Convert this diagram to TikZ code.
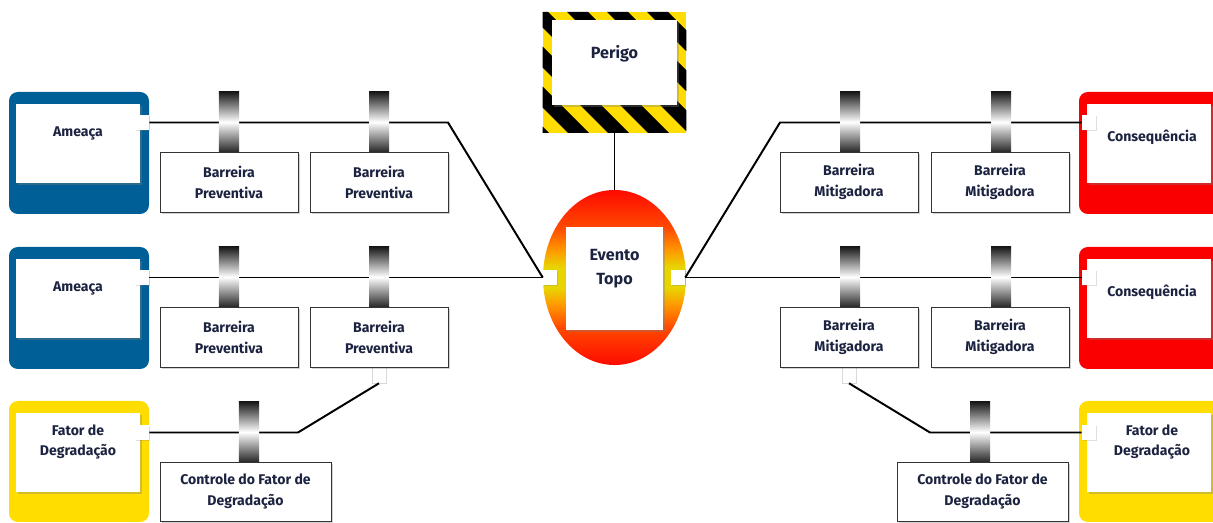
\documentclass[tikz,border=0pt]{standalone}
\usepackage{fontspec}
\setmainfont{Fira Sans}
\usetikzlibrary{shapes.geometric,shadows}
\definecolor{threat}{RGB}{0,95,150}
\definecolor{conseq}{RGB}{250,0,0}
\definecolor{degr}{RGB}{255,221,0}
\definecolor{ink}{RGB}{28,35,64}
\definecolor{evred}{RGB}{255,10,0}
\definecolor{evorange}{RGB}{255,75,0}
\definecolor{evamber}{RGB}{255,150,0}
\definecolor{evyellow}{RGB}{232,212,0}
\pgfdeclareverticalshading{evshade}{100bp}{color(0bp)=(evred); color(25bp)=(evred);
  color(36bp)=(evorange); color(42bp)=(evamber); color(47bp)=(evyellow);
  color(53bp)=(evyellow); color(58bp)=(evamber); color(64bp)=(evorange);
  color(75bp)=(evred); color(100bp)=(evred)}
\tikzset{
  group/.style={rounded corners=0.22cm},
  lbox/.style={fill=white, inner sep=0, minimum width=3.1cm, minimum height=1.975cm,
    drop shadow={shadow xshift=1.5pt, shadow yshift=-1.5pt, opacity=0.35}},
  lab/.style={font=\fontsize{10}{14.5}\selectfont\bfseries, text=ink, align=center},
  biglab/.style={font=\fontsize{11.5}{17}\selectfont\bfseries, text=ink, align=center},
  port/.style={fill=white, inner sep=0, minimum width=0.35cm, minimum height=0.375cm,
    drop shadow={shadow xshift=1pt, shadow yshift=-1pt, opacity=0.25}},
  tab/.style={fill=white, draw=black!15, inner sep=0, minimum width=0.35cm, minimum height=0.4cm},
  link/.style={line width=1.4pt, black},
  bar/.style={inner sep=0, minimum width=0.5cm, minimum height=1.5cm,
    top color=black!90, bottom color=black!85, middle color=white},
  barrier/.style={draw=black!80, line width=0.6pt, fill=white, inner sep=0,
    minimum width=3.45cm, minimum height=1.5cm, align=center,
    font=\fontsize{10}{15}\selectfont\bfseries, text=ink,
    drop shadow={shadow xshift=1.5pt, shadow yshift=-1.5pt, opacity=0.35}},
  hazard/.style={fill=degr, inner sep=0, minimum width=3.575cm, minimum height=3.025cm},
  evento/.style={ellipse, inner sep=0, minimum width=3.575cm, minimum height=4.375cm,
    shading=evshade}
}
\begin{document}
\begin{tikzpicture}[x=0.025cm,y=-0.025cm]
\useasboundingbox (0,0) rectangle (1213,523);
\clip (0,0) rectangle (1213,523);

% causes and consequences
\fill[group, threat] (9,92) rectangle (149,214);
\fill[group, threat] (9,247) rectangle (149,369);
\fill[group, degr] (9,401) rectangle (149,522);
\fill[group, conseq] (1079,92) rectangle (1227,214);
\fill[group, conseq] (1079,247) rectangle (1227,369);
\fill[group, degr] (1079,401) rectangle (1227,522);

\node[lbox] (a1) at (78,143.5) {};
\node[lbox] (a2) at (78,298.5) {};
\node[lbox] (f1) at (78,452.5) {};
\node[lbox] (c1) at (1149,143.5) {};
\node[lbox] (c2) at (1149,298.5) {};
\node[lbox] (f2) at (1149,452.5) {};

\node[lab] (a1t) at (78,133) {Ameaça};
\node[lab] (a2t) at (78,288) {Ameaça};
\node[lab] (f1t) at (78,442) {Fator de\\Degradação};
\node[lab] (c1t) at (1152,137) {Consequência};
\node[lab] (c2t) at (1152,292) {Consequência};
\node[lab] (f2t) at (1152,442) {Fator de\\Degradação};

\node[port] (p1) at (142,122.5) {};
\node[port] (p2) at (142,277.5) {};
\node[port] (p3) at (142,432.5) {};
\node[port] (p4) at (1089,122.5) {};
\node[port] (p5) at (1089,277.5) {};
\node[port] (p6) at (1089,432.5) {};

% hazard
\node[hazard] (hz) at (614.5,72.5) {};
\begin{scope}
\clip (hz.north west) rectangle (hz.south east);
\foreach \s in {0,...,8}
  \fill (407+\s*40,12) -- ++(21,0) -- ++(121,121) -- ++(-21,0) -- cycle;
\end{scope}
\node[lbox, minimum width=3.125cm, minimum height=2.125cm] (pg) at (614.5,62.5) {};
\node[biglab] (pgt) at (614.5,54) {Perigo};

% top event
\node[evento] (ev) at (614.5,277.5) {};
\node[lbox, minimum width=2.425cm, minimum height=2.575cm] (et) at (614.5,278.5) {};
\node[biglab] (ett) at (614.5,269) {Evento\\Topo};
\node[port] (e1) at (550,277.5) {};
\node[port] (e2) at (678,277.5) {};

\node[tab] (s1) at (379,375) {};
\node[tab] (s2) at (849,375) {};

\coordinate (v1) at (448,122.5);
\coordinate (v2) at (298,432.5);
\coordinate (v3) at (780,122.5);
\coordinate (v4) at (930,432.5);

\draw[link] (hz) -- (ev);
\draw[link] (p1) -- (v1) -- (e1.west);
\draw[link] (p2) -- (e1);
\draw[link] (p3) -- (v2) -- (s1.south);
\draw[link] (e2.east) -- (v3) -- (p4);
\draw[link] (e2) -- (p5);
\draw[link] (s2.south) -- (v4) -- (p6);

% barriers
\node[bar] (g1) at (229,122) {};
\node[bar] (g2) at (379,122) {};
\node[bar] (g3) at (229,277) {};
\node[bar] (g4) at (379,277) {};
\node[bar] (g5) at (249,432) {};
\node[bar] (g6) at (850,122) {};
\node[bar] (g7) at (1001,122) {};
\node[bar] (g8) at (850,277) {};
\node[bar] (g9) at (1001,277) {};
\node[bar] (g10) at (980,432) {};

\node[barrier] (b1) at (229,182) {Barreira\\Preventiva};
\node[barrier] (b2) at (379,182) {Barreira\\Preventiva};
\node[barrier] (b3) at (229,337) {Barreira\\Preventiva};
\node[barrier] (b4) at (379,337) {Barreira\\Preventiva};
\node[barrier, minimum width=4.275cm, minimum height=1.475cm] (k1) at (245.5,491.5) {Controle do Fator de\\Degradação};
\node[barrier] (m1) at (849,182) {Barreira\\Mitigadora};
\node[barrier] (m2) at (1000,182) {Barreira\\Mitigadora};
\node[barrier] (m3) at (849,337) {Barreira\\Mitigadora};
\node[barrier] (m4) at (1000,337) {Barreira\\Mitigadora};
\node[barrier, minimum width=4.275cm, minimum height=1.475cm] (k2) at (982.5,491.5) {Controle do Fator de\\Degradação};
\end{tikzpicture}
\end{document}
